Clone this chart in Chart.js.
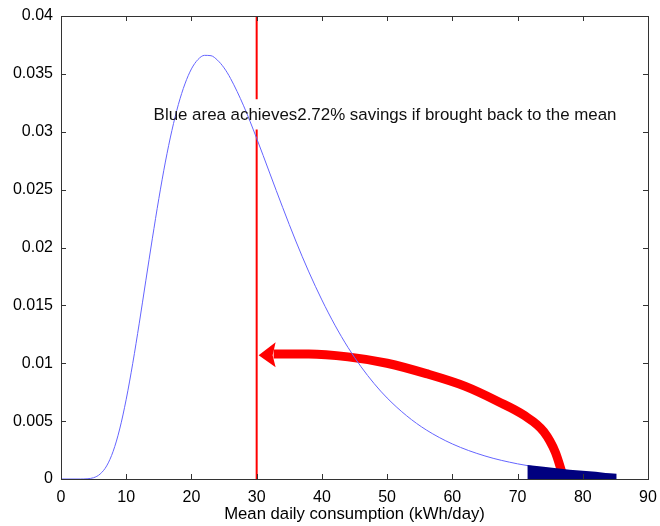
<!DOCTYPE html>
<html>
<head>
<meta charset="utf-8">
<script src="https://cdn.jsdelivr.net/npm/chart.js@4"></script>
<style>
  html, body { margin: 0; padding: 0; background: #fff; }
</style>
</head>
<body>
<canvas id="chart" width="660" height="526"></canvas>
<script>
// density curve of mean daily consumption
const curveX = [0, 3, 4, 5, 6, 7, 8, 9, 10, 11, 12, 13, 14, 15, 16, 17, 18, 19, 20, 21, 22, 23, 24, 25, 26, 28, 30, 32, 34, 36, 38, 40, 42, 44, 46, 48, 50, 53, 56, 60, 65, 70, 75, 80, 85];
const curveY = [0, 0, 0.00002, 0.00011, 0.00043, 0.00113, 0.0024, 0.00432, 0.00689, 0.00999, 0.01346, 0.01712, 0.02075, 0.02422, 0.02738, 0.0301, 0.03236, 0.03413, 0.03543, 0.03624, 0.0366, 0.03657, 0.03618, 0.03552, 0.0346, 0.03224, 0.02943, 0.02643, 0.02344, 0.02056, 0.01789, 0.01547, 0.01329, 0.01137, 0.0097, 0.00825, 0.0070, 0.00546, 0.00424, 0.00303, 0.00199, 0.00131, 0.00086, 0.00057, 0.00038];

// blue (shaded) tail area
const tailX = [71.5, 74, 76, 78, 80, 82, 83.5, 85.2];
const tailY = [0.00122, 0.00105, 0.00092, 0.0008, 0.00072, 0.00063, 0.00052, 0.00045];

// mean line (gap behind the note)
const meanX = 30;
const meanY = [0, 0.0302, null, 0.0328, 0.04];

// red arrow from tail back to the mean
const arrowX = [32.6, 38, 44, 50, 56, 62, 67, 71, 74, 75.8, 76.9];
const arrowY = [0.0108, 0.0108, 0.01055, 0.0100, 0.0091, 0.0080, 0.0067, 0.0055, 0.0041, 0.0023, 0.0004];
const arrowTip = [30.3, 0.0107];

// note
const noteText = 'Blue area achieves2.72% savings if brought back to the mean';
const noteX = 14.2;
const noteY = 0.0314;

// axes
const xTicks = [0, 10, 20, 30, 40, 50, 60, 70, 80, 90];
const yTicks = [0, 0.005, 0.01, 0.015, 0.02, 0.025, 0.03, 0.035, 0.04];
const yTickLabels = ['0', '0.005', '0.01', '0.015', '0.02', '0.025', '0.03', '0.035', '0.04'];
const xTitle = 'Mean daily consumption (kWh/day)';

const FONT = '"Liberation Sans", Arial, Helvetica, sans-serif';

const toPoints = (xs, ys) => xs.map((x, i) => ({ x: x, y: ys[i] }));

// box, inward ticks, arrow head and note
const frame = {
  id: 'frame',
  afterDatasetsDraw(chart) {
    const { ctx, scales: { x, y } } = chart;
    const tx = x.getPixelForValue(arrowTip[0]);
    const ty = y.getPixelForValue(arrowTip[1]);
    ctx.save();
    ctx.fillStyle = '#ff0000';
    ctx.beginPath();
    ctx.moveTo(tx, ty);
    ctx.lineTo(tx + 17, ty - 13);
    ctx.lineTo(tx + 14, ty);
    ctx.lineTo(tx + 17, ty + 12);
    ctx.closePath();
    ctx.fill();
    ctx.restore();
  },
  afterDraw(chart) {
    const { ctx, chartArea: a, scales: { x, y } } = chart;
    ctx.save();
    ctx.strokeStyle = '#333';
    ctx.lineWidth = 1;
    ctx.beginPath();
    xTicks.forEach(v => {
      const px = Math.round(x.getPixelForValue(v)) + 0.5;
      ctx.moveTo(px, a.bottom); ctx.lineTo(px, a.bottom - 5);
      ctx.moveTo(px, a.top); ctx.lineTo(px, a.top + 5);
    });
    yTicks.forEach(v => {
      const py = Math.round(y.getPixelForValue(v)) + 0.5;
      ctx.moveTo(a.left, py); ctx.lineTo(a.left + 5, py);
      ctx.moveTo(a.right, py); ctx.lineTo(a.right - 5, py);
    });
    ctx.stroke();
    ctx.strokeRect(Math.round(a.left) + 0.5, Math.round(a.top) + 0.5,
      Math.round(a.right - a.left), Math.round(a.bottom - a.top));

    ctx.fillStyle = '#111';
    ctx.font = '16.9px ' + FONT;
    ctx.textBaseline = 'middle';
    ctx.textAlign = 'left';
    ctx.fillText(noteText, x.getPixelForValue(noteX), y.getPixelForValue(noteY));
    ctx.restore();
  }
};

new Chart(document.getElementById('chart'), {
  type: 'line',
  data: {
    datasets: [
      {
        data: toPoints(tailX, tailY),
        borderWidth: 0,
        backgroundColor: '#00007f',
        fill: 'origin',
        pointRadius: 0,
        tension: 0
      },
      {
        data: toPoints(curveX, curveY),
        borderColor: '#6464ff',
        borderWidth: 1,
        pointRadius: 0,
        fill: false,
        cubicInterpolationMode: 'monotone'
      },
      {
        data: meanY.map(v => ({ x: meanX, y: v })),
        borderColor: '#ff0000',
        borderWidth: 2,
        pointRadius: 0,
        fill: false,
        spanGaps: false
      },
      {
        data: toPoints(arrowX, arrowY),
        borderColor: '#ff0000',
        borderWidth: 9,
        pointRadius: 0,
        fill: false,
        cubicInterpolationMode: 'monotone',
        borderCapStyle: 'butt'
      }
    ]
  },
  options: {
    responsive: false,
    animation: false,
    devicePixelRatio: 1,
    layout: { padding: { top: 16, right: 12, left: 0, bottom: 0 } },
    plugins: { legend: { display: false }, tooltip: { enabled: false } },
    scales: {
      x: {
        type: 'linear',
        min: 0,
        max: 90,
        afterBuildTicks: s => { s.ticks = xTicks.map(v => ({ value: v })); },
        afterFit: s => { s.height = 47; s.paddingLeft = 0; s.paddingRight = 0; },
        grid: { display: false, drawTicks: false },
        border: { display: false },
        ticks: { color: '#000', padding: 9, font: { family: FONT, size: 16 } },
        title: {
          display: true,
          text: xTitle,
          color: '#000',
          padding: { top: 0, bottom: 2 },
          font: { family: FONT, size: 16.7 }
        }
      },
      y: {
        min: 0,
        max: 0.04,
        afterBuildTicks: s => { s.ticks = yTicks.map(v => ({ value: v })); },
        afterFit: s => { s.width = 61; s.paddingTop = 0; s.paddingBottom = 0; },
        grid: { display: false, drawTicks: false },
        border: { display: false },
        ticks: {
          color: '#000',
          padding: 8,
          font: { family: FONT, size: 16 },
          callback: (v, i) => yTickLabels[i]
        }
      }
    }
  },
  plugins: [frame]
});
</script>
</body>
</html>
